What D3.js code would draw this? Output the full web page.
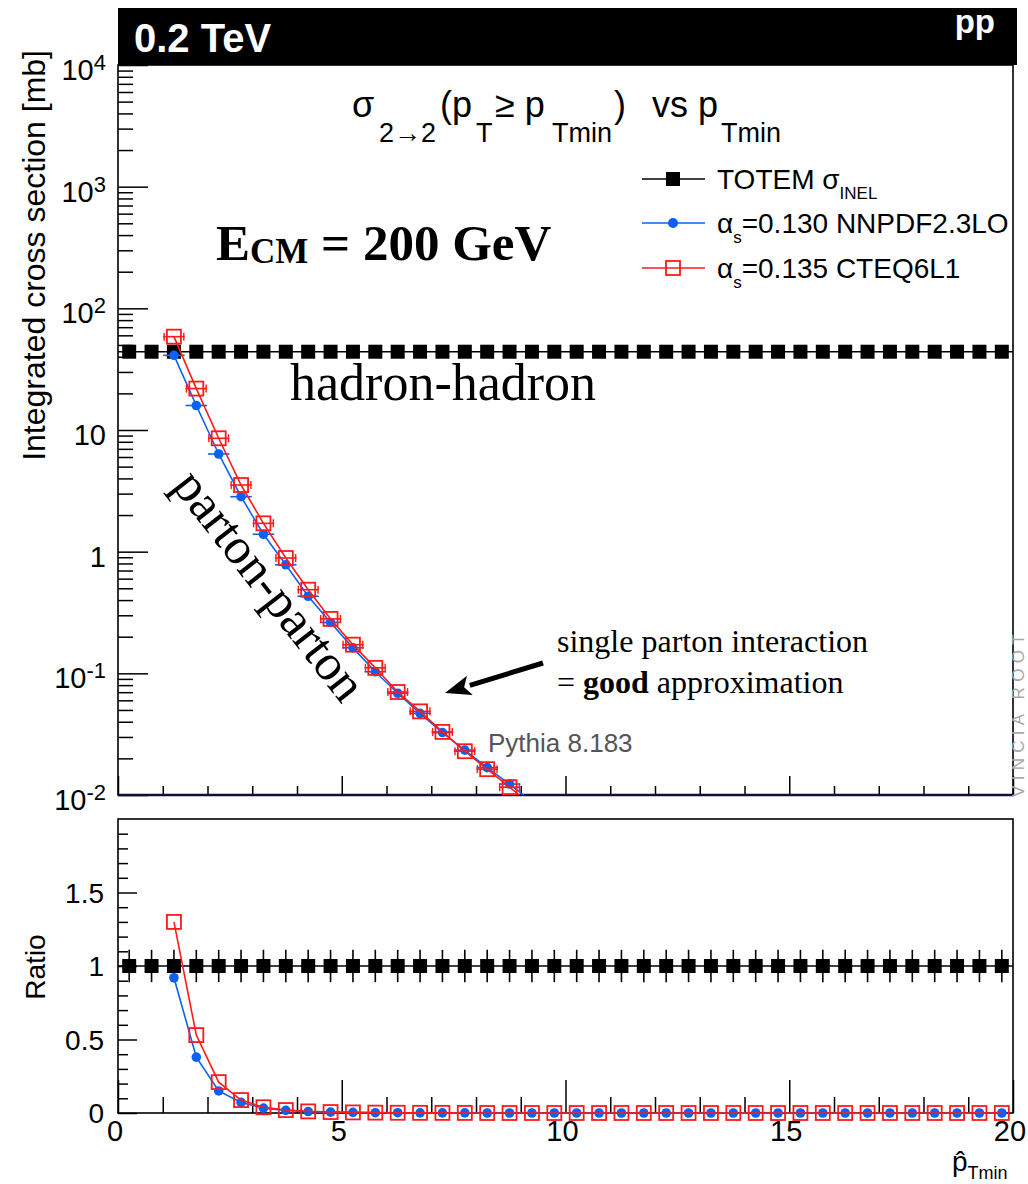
<!DOCTYPE html>
<html>
<head>
<meta charset="utf-8">
<script src="https://cdn.jsdelivr.net/npm/d3@7"></script>
<style>
  body { margin: 0; background: #fff; }
  svg { display: block; font-family: "Liberation Sans", Arial, Helvetica, sans-serif; }
</style>
</head>
<body>
<svg id="chart" width="1028" height="1184"></svg>
<script>
// bin centres of the pT,min scan (GeV)
const binCenters = [0.25, 0.75, 1.25, 1.75, 2.25, 2.75, 3.25, 3.75, 4.25, 4.75,
  5.25, 5.75, 6.25, 6.75, 7.25, 7.75, 8.25, 8.75, 9.25, 9.75,
  10.25, 10.75, 11.25, 11.75, 12.25, 12.75, 13.25, 13.75, 14.25, 14.75,
  15.25, 15.75, 16.25, 16.75, 17.25, 17.75, 18.25, 18.75, 19.25, 19.75];

const totemSigma = 44;      // mb
const totemRatioErr = 0.11;

// integrated cross sections [mb], top panel
const sigmaBins = [1.25, 1.75, 2.25, 2.75, 3.25, 3.75, 4.25, 4.75, 5.25,
  5.75, 6.25, 6.75, 7.25, 7.75, 8.25, 8.75, 9.25];
const sigmaNNPDF = [41.1, 15.9, 6.35, 2.83, 1.39, 0.78, 0.43, 0.262, 0.162,
  0.103, 0.0686, 0.0469, 0.0326, 0.0234, 0.0168, 0.0123, 0.0088];
const sigmaCTEQ = [58.5, 21.9, 8.55, 3.53, 1.71, 0.887, 0.487, 0.280, 0.172,
  0.111, 0.0702, 0.0487, 0.0330, 0.0229, 0.0163, 0.0116, 0.0082];

// ratio to TOTEM, bottom panel
const ratioBins = binCenters.slice(2);
const ratioNNPDF = [0.92, 0.38, 0.15, 0.072, 0.033, 0.018, 0.010, 0.006, 0.004, 0.002,
  0.002, 0.001, 0.001, 0.001, 0, 0, 0, 0, 0, 0,
  0, 0, 0, 0, 0, 0, 0, 0, 0, 0,
  0, 0, 0, 0, 0, 0, 0, 0];
const ratioCTEQ = [1.30, 0.53, 0.21, 0.088, 0.039, 0.020, 0.011, 0.0065, 0.004, 0.0025,
  0.0016, 0.0011, 0.0008, 0.0005, 0, 0, 0, 0, 0, 0,
  0, 0, 0, 0, 0, 0, 0, 0, 0, 0,
  0, 0, 0, 0, 0, 0, 0, 0];

const yTickValues = [1e-2, 1e-1, 1, 10, 1e2, 1e3, 1e4];
const yTickLabels = [["10", "-2"], ["10", "-1"], ["1", ""], ["10", ""], ["10", "2"], ["10", "3"], ["10", "4"]];
const ratioTickValues = [0, 0.5, 1, 1.5];
const ratioTickLabels = ["0", "0.5", "1", "1.5"];
const xTickValues = [0, 5, 10, 15, 20];

const blue = "#0a62f5";
const red = "#ff1a1a";

const svg = d3.select("#chart");
const left = 118, right = 1013;
const topY0 = 65, topY1 = 795, botY0 = 819, botY1 = 1113;

const x = d3.scaleLinear().domain([0, 20]).range([left, right]);
const yTop = d3.scaleLog().domain([1e-2, 1e4]).range([topY1, topY0]);
const yRat = d3.scaleLinear().domain([0, 2]).range([botY1, botY0]);

svg.append("defs").append("clipPath").attr("id", "clipTop")
  .append("rect").attr("x", left).attr("y", topY0)
  .attr("width", right - left).attr("height", topY1 - topY0);
svg.select("defs").append("clipPath").attr("id", "clipBot")
  .append("rect").attr("x", left).attr("y", botY0 - 10)
  .attr("width", right - left).attr("height", botY1 - botY0 + 20);

// header bar
svg.append("rect").attr("x", left).attr("y", 8).attr("width", 899).attr("height", 57).attr("fill", "#000");
svg.append("text").attr("x", 134).attr("y", 52).attr("fill", "#fff")
  .attr("font-size", 40).attr("font-weight", "bold").text("0.2 TeV");
svg.append("text").attr("x", 995).attr("y", 33).attr("fill", "#fff").attr("text-anchor", "end")
  .attr("font-size", 33).attr("font-weight", "bold").text("pp");

// ---------- axes, top panel ----------
let minorTop = yTop.ticks().filter(v => Math.abs(Math.log10(v) - Math.round(Math.log10(v))) > 1e-6);
let gy = svg.append("g").attr("transform", `translate(${left},0)`);
gy.call(d3.axisLeft(yTop).tickValues(minorTop).tickSize(-15).tickFormat(""));
gy.append("g").call(d3.axisLeft(yTop).tickValues(yTickValues).tickSize(-30).tickFormat(""));
gy.selectAll(".domain").remove();
gy.selectAll("line").attr("stroke", "#000").attr("stroke-width", 1.5);

yTickValues.forEach((v, i) => {
  let t = svg.append("text").attr("x", 106).attr("y", yTop(v) + 15)
    .attr("text-anchor", "end").attr("font-size", 29);
  t.append("tspan").text(yTickLabels[i][0]);
  if (yTickLabels[i][1]) {
    t.append("tspan").attr("font-size", 22).attr("dy", -10).text(yTickLabels[i][1]);
  }
});

let gxTop = svg.append("g").attr("transform", `translate(0,${topY1})`);
gxTop.call(d3.axisBottom(x).tickValues(x.ticks(20).filter(v => v % 5 !== 0)).tickSize(-9).tickFormat(""));
gxTop.append("g").call(d3.axisBottom(x).tickValues(xTickValues).tickSize(-19).tickFormat(""));
gxTop.selectAll(".domain").remove();
gxTop.selectAll("line").attr("stroke", "#000").attr("stroke-width", 1.5);

svg.append("rect").attr("x", left).attr("y", topY0).attr("width", right - left).attr("height", topY1 - topY0)
  .attr("fill", "none").attr("stroke", "#000").attr("stroke-width", 1.6);
svg.append("line").attr("x1", left).attr("x2", right).attr("y1", topY1).attr("y2", topY1)
  .attr("stroke", "#10103a").attr("stroke-width", 2.5);

// ---------- axes, bottom panel ----------
let gr = svg.append("g").attr("transform", `translate(${left},0)`);
gr.call(d3.axisLeft(yRat).tickValues(yRat.ticks(20).filter(v => Math.abs(v * 2 - Math.round(v * 2)) > 1e-6)).tickSize(-10).tickFormat(""));
gr.append("g").call(d3.axisLeft(yRat).tickValues(ratioTickValues).tickSize(-19).tickFormat(""));
gr.selectAll(".domain").remove();
gr.selectAll("line").attr("stroke", "#000").attr("stroke-width", 1.5);
ratioTickValues.forEach((v, i) => {
  svg.append("text").attr("x", 104).attr("y", yRat(v) + 10).attr("text-anchor", "end")
    .attr("font-size", 28).text(ratioTickLabels[i]);
});

let gxBot = svg.append("g").attr("transform", `translate(0,${botY1})`);
gxBot.call(d3.axisBottom(x).tickValues(x.ticks(20).filter(v => v % 5 !== 0)).tickSize(-16).tickFormat(""));
gxBot.append("g").call(d3.axisBottom(x).tickValues(xTickValues).tickSize(-33).tickFormat(""));
gxBot.selectAll(".domain").remove();
gxBot.selectAll("line").attr("stroke", "#000").attr("stroke-width", 1.5);
xTickValues.forEach(v => {
  svg.append("text").attr("x", x(v) - 3).attr("y", 1141).attr("text-anchor", "middle")
    .attr("font-size", 29).text(v);
});

svg.append("rect").attr("x", left).attr("y", botY0).attr("width", right - left).attr("height", botY1 - botY0)
  .attr("fill", "none").attr("stroke", "#000").attr("stroke-width", 1.6);

// axis titles
svg.append("text").attr("transform", "translate(45,50) rotate(-90)").attr("text-anchor", "end")
  .attr("font-size", 32).text("Integrated cross section [mb]");
svg.append("text").attr("transform", "translate(45,967) rotate(-90)").attr("text-anchor", "middle")
  .attr("font-size", 28).text("Ratio");
let xt = svg.append("text").attr("x", 952).attr("y", 1171).attr("font-size", 28);
xt.append("tspan").text("p\u0302");
xt.append("tspan").attr("font-size", 18).attr("dy", 8).text("Tmin");

// ---------- data, top panel ----------
const gTop = svg.append("g").attr("clip-path", "url(#clipTop)");
gTop.append("line").attr("x1", left).attr("x2", right)
  .attr("y1", yTop(totemSigma)).attr("y2", yTop(totemSigma)).attr("stroke", "#000").attr("stroke-width", 1.5);
gTop.selectAll(".totem").data(binCenters).enter().append("rect")
  .attr("x", d => x(d) - 7).attr("y", yTop(totemSigma) - 7).attr("width", 14).attr("height", 14).attr("fill", "#000");

function drawSeries(g, bins, vals, yScale, color, kind, bars) {
  const pts = bins.map((b, i) => ({ x: b, y: vals[i] }));
  g.append("path").datum(pts).attr("fill", "none").attr("stroke", color).attr("stroke-width", 1.6)
    .attr("d", d3.line().x(d => x(d.x)).y(d => yScale(d.y)));
  if (bars) {
    g.selectAll(null).data(pts).enter().append("line")
      .attr("x1", d => x(d.x - 0.24)).attr("x2", d => x(d.x + 0.24))
      .attr("y1", d => yScale(d.y)).attr("y2", d => yScale(d.y))
      .attr("stroke", color).attr("stroke-width", 1.6);
    if (kind === "square") {
      [-0.22, 0.22].forEach(off => {
        g.selectAll(null).data(pts).enter().append("line")
          .attr("x1", d => x(d.x + off)).attr("x2", d => x(d.x + off))
          .attr("y1", d => yScale(d.y) - 4).attr("y2", d => yScale(d.y) + 4)
          .attr("stroke", color).attr("stroke-width", 1.4);
      });
    }
  }
  if (kind === "dot") {
    g.selectAll(null).data(pts).enter().append("circle")
      .attr("cx", d => x(d.x)).attr("cy", d => yScale(d.y)).attr("r", 4.8).attr("fill", color);
  } else {
    g.selectAll(null).data(pts).enter().append("rect")
      .attr("x", d => x(d.x) - 7).attr("y", d => yScale(d.y) - 7).attr("width", 14).attr("height", 14)
      .attr("fill", "none").attr("stroke", color).attr("stroke-width", 1.8);
  }
}
drawSeries(gTop, sigmaBins, sigmaNNPDF, yTop, blue, "dot", true);
drawSeries(gTop, sigmaBins, sigmaCTEQ, yTop, red, "square", true);

// ---------- data, bottom panel ----------
const gBot = svg.append("g").attr("clip-path", "url(#clipBot)");
gBot.append("line").attr("x1", left).attr("x2", right).attr("y1", yRat(1)).attr("y2", yRat(1))
  .attr("stroke", "#000").attr("stroke-width", 1.5);
gBot.selectAll(".terr").data(binCenters).enter().append("line")
  .attr("x1", d => x(d)).attr("x2", d => x(d))
  .attr("y1", yRat(1 - totemRatioErr)).attr("y2", yRat(1 + totemRatioErr))
  .attr("stroke", "#000").attr("stroke-width", 1.6);
gBot.selectAll(".tsq").data(binCenters).enter().append("rect")
  .attr("x", d => x(d) - 7).attr("y", yRat(1) - 7).attr("width", 14).attr("height", 14).attr("fill", "#000");
drawSeries(gBot, ratioBins, ratioNNPDF, yRat, blue, "dot", false);
drawSeries(gBot, ratioBins, ratioCTEQ, yRat, red, "square", false);

// ---------- legend ----------
const legendRows = [
  { y: 179, color: "#000", kind: "filled" },
  { y: 223, color: blue, kind: "dot" },
  { y: 268, color: red, kind: "square" }
];
legendRows.forEach(r => {
  svg.append("line").attr("x1", 642).attr("x2", 705).attr("y1", r.y).attr("y2", r.y)
    .attr("stroke", r.color).attr("stroke-width", 1.6);
  if (r.kind === "filled") {
    svg.append("rect").attr("x", 666).attr("y", r.y - 7).attr("width", 14).attr("height", 14).attr("fill", "#000");
  } else if (r.kind === "dot") {
    svg.append("circle").attr("cx", 673).attr("cy", r.y).attr("r", 5).attr("fill", r.color);
  } else {
    svg.append("rect").attr("x", 666).attr("y", r.y - 7).attr("width", 14).attr("height", 14)
      .attr("fill", "none").attr("stroke", r.color).attr("stroke-width", 1.8);
  }
});
let l1 = svg.append("text").attr("x", 717).attr("y", 189).attr("font-size", 28);
l1.append("tspan").text("TOTEM \u03C3");
l1.append("tspan").attr("font-size", 17).attr("dy", 10).text("INEL");
let l2 = svg.append("text").attr("x", 717).attr("y", 233).attr("font-size", 28);
l2.append("tspan").text("\u03B1");
l2.append("tspan").attr("font-size", 17).attr("dy", 10).text("s");
l2.append("tspan").attr("dy", -10).text("=0.130 NNPDF2.3LO");
let l3 = svg.append("text").attr("x", 717).attr("y", 278).attr("font-size", 28);
l3.append("tspan").text("\u03B1");
l3.append("tspan").attr("font-size", 17).attr("dy", 10).text("s");
l3.append("tspan").attr("dy", -10).text("=0.135 CTEQ6L1");

// ---------- title ----------
const titleParts = [
  { t: "\u03C3", x: 352, sub: false },
  { t: "2\u21922", x: 379, sub: true },
  { t: "(p", x: 440, sub: false },
  { t: "T", x: 476, sub: true },
  { t: "\u2265 p", x: 495, sub: false },
  { t: "Tmin", x: 552, sub: true },
  { t: ")", x: 614, sub: false },
  { t: "vs p", x: 652, sub: false },
  { t: "Tmin", x: 721, sub: true }
];
let tt = svg.append("text").attr("font-size", 36);
titleParts.forEach(p => {
  tt.append("tspan").attr("x", p.x).attr("y", p.sub ? 142 : 117)
    .attr("font-size", p.sub ? 27 : 36).text(p.t);
});

// ---------- annotations ----------
const serif = "'Liberation Serif', 'Times New Roman', Times, serif";
let ecm = svg.append("text").attr("x", 216).attr("y", 260).attr("font-family", serif)
  .attr("font-weight", "bold").attr("font-size", 51);
ecm.append("tspan").text("E");
ecm.append("tspan").attr("font-size", 35).attr("dy", 3).text("CM");
ecm.append("tspan").attr("dy", -3).text(" = 200 GeV");

svg.append("text").attr("x", 290).attr("y", 400).attr("font-family", serif).attr("font-size", 52)
  .text("hadron-hadron");
svg.append("text").attr("transform", "translate(270,585) rotate(52)").attr("text-anchor", "middle")
  .attr("dominant-baseline", "central").attr("font-family", serif).attr("font-size", 51)
  .text("parton-parton");

svg.append("text").attr("x", 557).attr("y", 652).attr("font-family", serif).attr("font-size", 32)
  .text("single parton interaction");
let ga = svg.append("text").attr("x", 557).attr("y", 693).attr("font-family", serif).attr("font-size", 32);
ga.append("tspan").text("= ");
ga.append("tspan").attr("font-weight", "bold").text("good");
ga.append("tspan").text(" approximation");

// arrow
const tail = [543, 663], tip = [445, 693];
const ang = Math.atan2(tip[1] - tail[1], tip[0] - tail[0]);
const hl = 26, hw = 10;
const base = [tip[0] - hl * Math.cos(ang), tip[1] - hl * Math.sin(ang)];
svg.append("line").attr("x1", tail[0]).attr("y1", tail[1]).attr("x2", base[0]).attr("y2", base[1])
  .attr("stroke", "#000").attr("stroke-width", 5);
svg.append("polygon").attr("points", [
  tip,
  [base[0] + hw * Math.sin(ang), base[1] - hw * Math.cos(ang)],
  [base[0] + 6 * Math.cos(ang), base[1] + 6 * Math.sin(ang)],
  [base[0] - hw * Math.sin(ang), base[1] + hw * Math.cos(ang)]
].map(p => p.join(",")).join(" ")).attr("fill", "#000");

svg.append("text").attr("x", 488).attr("y", 752).attr("font-size", 26).attr("fill", "#555")
  .text("Pythia 8.183");

svg.append("text").attr("transform", "translate(1024,797) rotate(-90)").attr("font-size", 17)
  .attr("letter-spacing", 5.3).attr("fill", "#a8a8a8").text("VINCIA ROOT");
</script>
</body>
</html>
